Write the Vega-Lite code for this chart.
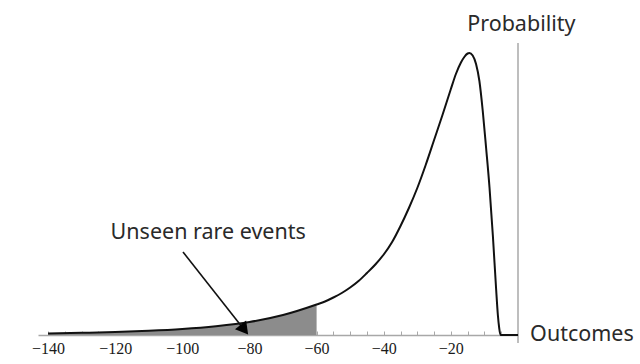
{
  "$schema": "https://vega.github.io/schema/vega-lite/v6.json",
  "width": 480,
  "height": 300,
  "autosize": {"type": "none"},
  "padding": {"left": 38, "top": 35, "right": 122, "bottom": 29},
  "background": "white",
  "config": {"view": {"stroke": null}},
  "data": {
    "values": [
      {"kind": "curve", "x": -140, "p": 1.5},
      {"kind": "curve", "x": -130, "p": 2.2},
      {"kind": "curve", "x": -120, "p": 3},
      {"kind": "curve", "x": -110, "p": 4.2},
      {"kind": "curve", "x": -100, "p": 6},
      {"kind": "curve", "x": -90, "p": 8.8},
      {"kind": "curve", "x": -80, "p": 13},
      {"kind": "curve", "x": -70, "p": 20},
      {"kind": "curve", "x": -60, "p": 30.5},
      {"kind": "curve", "x": -57.5, "p": 33.5},
      {"kind": "curve", "x": -55, "p": 37.5},
      {"kind": "curve", "x": -52.5, "p": 42},
      {"kind": "curve", "x": -50, "p": 47.5},
      {"kind": "curve", "x": -47.5, "p": 54},
      {"kind": "curve", "x": -45, "p": 62},
      {"kind": "curve", "x": -42.5, "p": 70.5},
      {"kind": "curve", "x": -40, "p": 80.5},
      {"kind": "curve", "x": -37.5, "p": 93},
      {"kind": "curve", "x": -35, "p": 109},
      {"kind": "curve", "x": -32.5, "p": 127},
      {"kind": "curve", "x": -30, "p": 147},
      {"kind": "curve", "x": -27.5, "p": 170},
      {"kind": "curve", "x": -25, "p": 195},
      {"kind": "curve", "x": -22.5, "p": 220},
      {"kind": "curve", "x": -20, "p": 246},
      {"kind": "curve", "x": -18.5, "p": 261},
      {"kind": "curve", "x": -17, "p": 272.5},
      {"kind": "curve", "x": -16, "p": 278},
      {"kind": "curve", "x": -15, "p": 281.5},
      {"kind": "curve", "x": -14.5, "p": 282},
      {"kind": "curve", "x": -13.5, "p": 279.5},
      {"kind": "curve", "x": -12.5, "p": 271},
      {"kind": "curve", "x": -11.5, "p": 254},
      {"kind": "curve", "x": -10.5, "p": 224},
      {"kind": "curve", "x": -9.5, "p": 187},
      {"kind": "curve", "x": -8.5, "p": 148},
      {"kind": "curve", "x": -7.5, "p": 100},
      {"kind": "curve", "x": -6.5, "p": 45},
      {"kind": "curve", "x": -6, "p": 20},
      {"kind": "curve", "x": -5.6, "p": 7},
      {"kind": "curve", "x": -5.2, "p": 0},
      {"kind": "curve", "x": 0, "p": 0},
      {"kind": "arrow", "x": -99.8, "p": 83, "x2": -81.5, "p2": 5},
      {"kind": "head", "x": -81.9, "p": 7},
      {"kind": "vline", "x": 0, "p": -8, "p2": 292},
      {"kind": "clabel", "x": 1, "p": 310, "text": "Probability"},
      {"kind": "clabel", "x": -92.3, "p": 102, "text": "Unseen rare events"},
      {"kind": "llabel", "x": 3.6, "p": 0, "text": "Outcomes"}
    ]
  },
  "encoding": {
    "x": {
      "field": "x",
      "type": "quantitative",
      "scale": {"domain": [-143, 0], "nice": false, "zero": false},
      "axis": {
        "title": null,
        "grid": false,
        "values": [-140, -135, -130, -125, -120, -115, -110, -105, -100, -95, -90, -85, -80, -75, -70, -65, -60, -55, -50, -45, -40, -35, -30, -25, -20, -15, -10, -5],
        "labelExpr": "datum.value % 20 === 0 ? datum.label : ''",
        "domainColor": "#a8a8a8",
        "domainWidth": 1.5,
        "tickColor": "#a8a8a8",
        "tickSize": -4,
        "labelFont": "Liberation Serif",
        "labelFontSize": 16,
        "labelColor": "#1a1a1a",
        "labelPadding": 9,
        "labelFlush": false,
        "labelOverlap": false
      }
    },
    "y": {
      "field": "p",
      "type": "quantitative",
      "scale": {"domain": [0, 300], "nice": false},
      "axis": null
    }
  },
  "layer": [
    {
      "transform": [{"filter": "datum.kind === 'vline'"}],
      "mark": {"type": "rule", "color": "#a8a8a8", "strokeWidth": 1.5},
      "encoding": {"y2": {"field": "p2"}}
    },
    {
      "transform": [{"filter": "datum.kind === 'curve' && datum.x <= -60"}],
      "mark": {"type": "area", "color": "#8c8c8c", "interpolate": "monotone", "opacity": 1},
      "encoding": {}
    },
    {
      "transform": [{"filter": "datum.kind === 'curve'"}],
      "mark": {"type": "line", "color": "#111111", "strokeWidth": 2, "interpolate": "monotone"},
      "encoding": {}
    },
    {
      "transform": [{"filter": "datum.kind === 'arrow'"}],
      "mark": {"type": "rule", "color": "#111111", "strokeWidth": 1.6},
      "encoding": {"x2": {"field": "x2"}, "y2": {"field": "p2"}}
    },
    {
      "transform": [{"filter": "datum.kind === 'head'"}],
      "mark": {"type": "point", "shape": "triangle", "filled": true, "color": "#000000", "size": 200, "angle": 141.7, "opacity": 1},
      "encoding": {}
    },
    {
      "transform": [{"filter": "datum.kind === 'clabel'"}],
      "mark": {"type": "text", "font": "Noto Sans", "fontSize": 21.5, "color": "#2a2a2a", "baseline": "middle", "align": "center"},
      "encoding": {"text": {"field": "text"}}
    },
    {
      "transform": [{"filter": "datum.kind === 'llabel'"}],
      "mark": {"type": "text", "font": "Noto Sans", "fontSize": 21.5, "color": "#2a2a2a", "baseline": "middle", "align": "left"},
      "encoding": {"text": {"field": "text"}}
    }
  ]
}
